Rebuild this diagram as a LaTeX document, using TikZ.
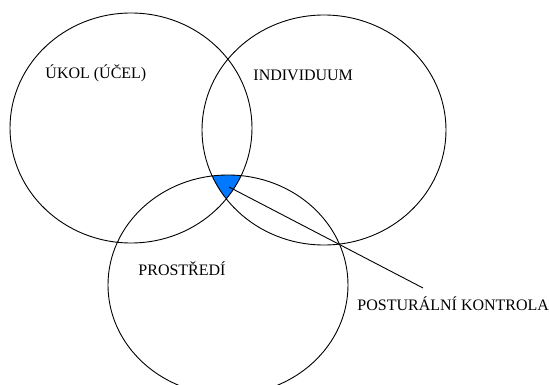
\documentclass[tikz,border=0pt]{standalone}
\usepackage{fontspec}
\setmainfont{Liberation Serif}
\usepackage{tikz}
\definecolor{pkblue}{RGB}{0,120,255}

\begin{document}
\begin{tikzpicture}[x=1pt, y=-1pt, line width=0.9pt,
  lbl/.style={anchor=base west, inner sep=0pt, font=\fontsize{16}{19}\selectfont}]
\useasboundingbox (0,0) rectangle (549,385);
% common part of the three circles
\begin{scope}
\clip (131,128) ellipse (121 and 115);
\clip (324,130) ellipse (122 and 115);
\fill[pkblue] (228,285) ellipse (120 and 110);
\end{scope}
\draw (131,128) ellipse (121 and 115)
(324,130) ellipse (122 and 115)
(228,285) ellipse (120 and 110);
\node[lbl] (ukol) at (45,79) {ÚKOL (ÚČEL)};
\node[lbl] (individuum) at (253,81) {INDIVIDUUM};
\node[lbl] (prostredi) at (138,275) {PROSTŘEDÍ};
\node[lbl] (kontrola) at (357,310) {POSTURÁLNÍ KONTROLA};
\coordinate (pk) at (229,187);
\coordinate (pkend) at (423,288);
\draw (pk) -- (pkend);
\end{tikzpicture}
\end{document}
